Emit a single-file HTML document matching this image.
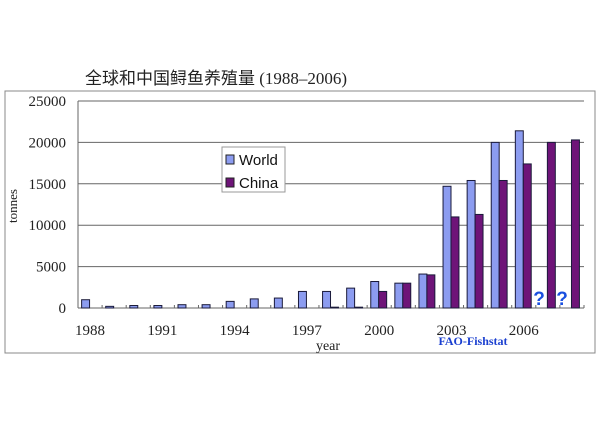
<!DOCTYPE html>
<html><head><meta charset="utf-8"><style>
body{margin:0;background:#fff;}
svg{display:block;font-family:"Liberation Serif","Noto Serif CJK SC",serif;}
</style></head><body>
<svg width="600" height="425" viewBox="0 0 600 425">
<text x="85" y="84" font-size="17" fill="#222" font-family="Liberation Serif, Noto Sans CJK SC, sans-serif">全球和中国鲟鱼养殖量 (1988–2006)</text>
<rect x="5" y="91" width="590" height="262" fill="none" stroke="#888" stroke-width="1"/>
<g id="grid"></g>
<g id="bars"></g>
<g id="xlabels"></g>
<text x="17" y="206" font-size="13" fill="#222" transform="rotate(-90 17 206)" text-anchor="middle">tonnes</text>
<text x="328" y="350" font-size="14" fill="#222" text-anchor="middle">year</text>
<text x="473" y="345" font-size="12" font-weight="bold" fill="#1a3fd0" text-anchor="middle">FAO-Fishstat</text>
<text x="539" y="305" font-size="19" font-weight="bold" fill="#1a50e0" text-anchor="middle" font-family="Liberation Sans, sans-serif">?</text>
<text x="562" y="305" font-size="19" font-weight="bold" fill="#1a50e0" text-anchor="middle" font-family="Liberation Sans, sans-serif">?</text>
<g>
<rect x="222" y="147" width="63" height="45" fill="#fff" stroke="#999"/>
<rect x="226" y="155" width="8" height="9" fill="#8c9cf0" stroke="#222"/>
<text x="239" y="165" font-size="15" font-family="Liberation Sans, sans-serif" fill="#111">World</text>
<rect x="226" y="178" width="8" height="9" fill="#6e1478" stroke="#222"/>
<text x="239" y="188" font-size="15" font-family="Liberation Sans, sans-serif" fill="#111">China</text>
</g>
</svg>
<script>
const years=[1988,1989,1990,1991,1992,1993,1994,1995,1996,1997,1998,1999,2000,2001,2002,2003,2004,2005,2006,2007,2008];
const worldValues=[1000,200,300,300,400,400,800,1100,1200,2000,2000,2400,3200,3000,4100,14700,15400,20000,21400,null,null];
const chinaValues=[0,0,0,0,0,0,0,0,0,0,100,100,2000,3000,4000,11000,11300,15400,17400,20000,20300];
const yTicks=[0,5000,10000,15000,20000,25000];
const xTickLabels=["1988","1991","1994","1997","2000","2003","2006"];
const NS="http://www.w3.org/2000/svg";
const L=78,R=584,T=101,B=308,YMAX=25000;
const slot=(R-L)/years.length;
const y=v=>B-(v/YMAX)*(B-T);
const x=i=>L+i*slot;
function mk(tag,attrs,parent){const e=document.createElementNS(NS,tag);for(const k in attrs)e.setAttribute(k,attrs[k]);parent.appendChild(e);return e;}
const grid=document.getElementById('grid'),bars=document.getElementById('bars'),xl=document.getElementById('xlabels');
yTicks.forEach(t=>{
 const ln=mk('line',{x1:L,x2:R,y1:y(t),y2:y(t),stroke:'#666','stroke-width':1},grid);
 
 
 const tx=mk('text',{x:66,y:y(t)+5,'font-size':15,'text-anchor':'end',fill:'#222'},grid);
 tx.textContent=t;
 
 
});
mk('line',{x1:L,x2:L,y1:T,y2:B,stroke:'#666'},grid);
for(let i=0;i<=years.length;i++){
 const tk=mk('line',{x1:x(i),x2:x(i),y1:B-3,y2:B,stroke:'#666'},grid);
 
 
}
years.forEach((yr,i)=>{
 const w=worldValues[i],c=chinaValues[i];
 const bw=slot*0.33;
 const x0=x(i)+slot*0.15;
 if(w!==null&&w>0){
  const r=mk('rect',{x:x0,y:y(w),width:bw,height:B-y(w),fill:'#8c9cf0',stroke:'#1a1a3a','stroke-width':1},bars);
  
  
 }
 if(c!==null&&c>0){
  const r=mk('rect',{x:x0+bw,y:y(c),width:bw,height:B-y(c),fill:'#6e1478',stroke:'#1a1a3a','stroke-width':1},bars);
  
  
 }
});
xTickLabels.forEach(lab=>{
 const i=years.indexOf(+lab);
 const t=mk('text',{x:x(i)+slot/2,y:335,'font-size':15,'text-anchor':'middle',fill:'#222'},xl);
 t.textContent=lab;
 
 
});
</script>
</body></html>
